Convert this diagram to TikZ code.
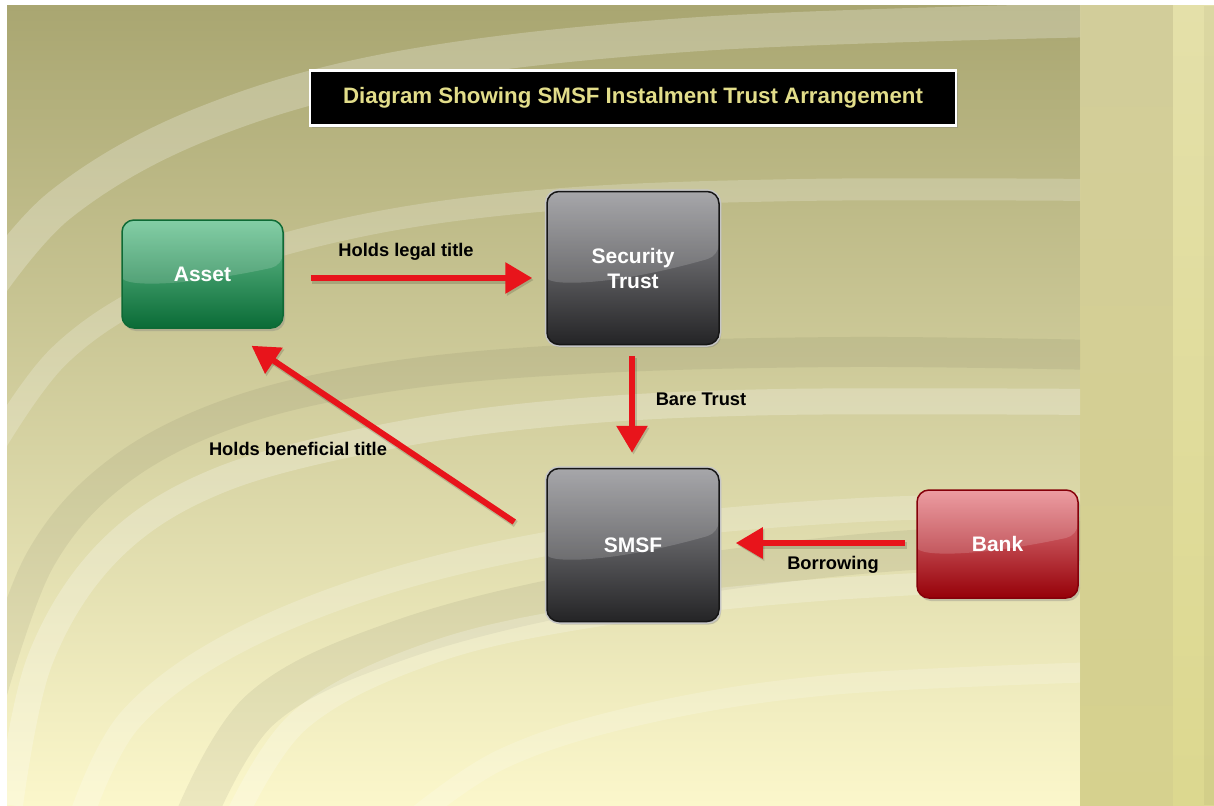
\documentclass[tikz,border=0pt]{standalone}
\usepackage{fontspec}
\setmainfont{Liberation Sans}
\usetikzlibrary{arrows.meta,shadows,calc}

\definecolor{bgtop}{HTML}{A9A671}
\definecolor{bgmid}{HTML}{D2CD8E}
\definecolor{bgbot}{HTML}{FBF7CB}
\definecolor{bandA}{HTML}{D2CD9A}
\definecolor{bandAb}{HTML}{D6D18E}
\definecolor{bandB}{HTML}{E4E0A9}
\definecolor{bandBb}{HTML}{DCD88F}
\definecolor{titletext}{HTML}{E2DD8A}
\definecolor{arrowred}{HTML}{E8141B}
\definecolor{greentop}{HTML}{6CC595}
\definecolor{greenmid}{HTML}{17955A}
\definecolor{greenbot}{HTML}{0A6B36}
\definecolor{greenedge}{HTML}{0E6A35}
\definecolor{darktop}{HTML}{96969A}
\definecolor{darkmid}{HTML}{4E4E53}
\definecolor{darkbot}{HTML}{242426}
\definecolor{darkedge}{HTML}{161616}
\definecolor{redtop}{HTML}{E98A90}
\definecolor{redmid}{HTML}{C0111B}
\definecolor{redbot}{HTML}{960008}
\definecolor{rededge}{HTML}{85000A}

\tikzset{
  glossbox/.style={rounded corners=12pt, line width=1.5pt, text=white,
    font=\bfseries\fontsize{21}{25}\selectfont, align=center,
    drop shadow={opacity=.35, shadow xshift=2pt, shadow yshift=-3pt},
    path picture={
      \fill[white, opacity=.16]
        (path picture bounding box.north west) -- (path picture bounding box.north east)
        -- ($(path picture bounding box.north east)!0.42!(path picture bounding box.south east)$)
        .. controls ($(path picture bounding box.north east)!0.62!(path picture bounding box.south west)$)
        and ($(path picture bounding box.north west)!0.62!(path picture bounding box.south west)$)
        .. ($(path picture bounding box.north west)!0.64!(path picture bounding box.south west)$)
        -- cycle;
    }},
  greenbox/.style={glossbox, draw=greenedge, top color=greentop, middle color=greenmid, bottom color=greenbot,
    minimum width=161pt, minimum height=108pt},
  redbox/.style={glossbox, draw=rededge, top color=redtop, middle color=redmid, bottom color=redbot,
    minimum width=161pt, minimum height=108pt},
  darkbox/.style={glossbox, draw=darkedge, top color=darktop, middle color=darkmid, bottom color=darkbot,
    preaction={draw=gray!45, line width=4.5pt},
    minimum width=172pt, minimum height=153pt},
  flow/.style={draw=arrowred, line width=6pt, -{Triangle[width=30pt,length=27pt]},
    preaction={draw=black, opacity=.15, line width=7pt, transform canvas={xshift=1.5pt,yshift=-2pt}}},
  flowlabel/.style={text=black, font=\bfseries\fontsize{18.3}{21}\selectfont, inner sep=0pt},
  light band/.style={line width=#1, white, opacity=.24},
  dark band/.style={line width=#1, black, opacity=.055}
}

\begin{document}
\begin{tikzpicture}[x=1pt,y=-1pt]
  \useasboundingbox (0,0) rectangle (1214,805);
  \fill[white] (0,0) rectangle (1214,805);

  % backdrop panels
  \shade[top color=bgtop, middle color=bgmid, bottom color=bgbot] (7,6) rectangle (1080,805);
  \shade[top color=bandA, bottom color=bandAb] (1080,6) rectangle (1173,805);
  \shade[top color=bandB, bottom color=bandBb] (1173,6) rectangle (1214,805);
  \fill[black, opacity=.04] (1204,6) rectangle (1214,805);

  % sweeping bands of the backdrop
  \begin{scope}
    \clip (7,6) rectangle (1080,805);
    \draw[light band=34pt] plot[smooth, tension=.6] coordinates
      {(-20,300) (60,205) (200,125) (400,68) (700,34) (1100,20)};
    \draw[light band=22pt, opacity=.2] plot[smooth, tension=.6] coordinates
      {(-20,470) (60,355) (180,280) (350,228) (550,200) (800,190) (1100,190)};
    \draw[dark band=30pt] plot[smooth, tension=.6] coordinates
      {(-10,700) (40,560) (120,470) (240,410) (400,375) (600,358) (850,352) (1100,355)};
    \draw[light band=26pt] plot[smooth, tension=.6] coordinates
      {(10,805) (40,660) (110,550) (220,480) (390,436) (570,412) (780,402) (1100,402)};
    \draw[light band=24pt, opacity=.2] plot[smooth, tension=.6] coordinates
      {(80,820) (130,720) (240,640) (410,575) (620,532) (860,510) (1100,505)};
    \draw[dark band=40pt, opacity=.06] plot[smooth, tension=.6] coordinates
      {(190,830) (260,710) (400,640) (600,590) (850,555) (1100,540)};
    \draw[light band=22pt, opacity=.22] plot[smooth, tension=.6] coordinates
      {(230,830) (300,720) (440,650) (620,612) (820,590) (1100,575)};
    \draw[light band=20pt, opacity=.18] plot[smooth, tension=.6] coordinates
      {(400,830) (500,760) (640,715) (830,685) (1100,672)};
  \end{scope}

  % heading
  \node[fill=black, draw=white, line width=2.5pt, minimum width=646pt, minimum height=55pt,
        text=titletext, font=\bfseries\fontsize{22.3}{26}\selectfont,
        drop shadow={opacity=.35, shadow xshift=2pt, shadow yshift=-3pt}]
        (title) at (633,98) {Diagram Showing SMSF Instalment Trust Arrangement};

  % parties
  \node[greenbox] (asset) at (202.5,274) {Asset};
  \node[darkbox] (sec) at (633,268) {Security\\Trust};
  \node[darkbox] (smsf) at (633,545) {SMSF};
  \node[redbox] (bank) at (997.5,544) {Bank};

  % relationships
  \draw[flow] ([xshift=27pt,yshift=-4pt]asset.east) -- ([xshift=-14pt,yshift=-10pt]sec.west);
  \draw[flow] ([yshift=-11pt,xshift=-1pt]sec.south) -- ([yshift=15pt,xshift=-1pt]smsf.north);
  \draw[flow] ([xshift=-32pt,yshift=23pt]smsf.west) -- ([xshift=49pt,yshift=-17pt]asset.south);
  \draw[flow] ([xshift=-11pt,yshift=1pt]bank.west) -- ([xshift=16pt,yshift=2pt]smsf.east);

  \node[flowlabel] (l1) at (406,252) {Holds legal title};
  \node[flowlabel] (l2) at (701,399) {Bare Trust};
  \node[flowlabel] (l3) at (298,449) {Holds beneficial title};
  \node[flowlabel] (l4) at (833,565) {Borrowing};
\end{tikzpicture}
\end{document}
